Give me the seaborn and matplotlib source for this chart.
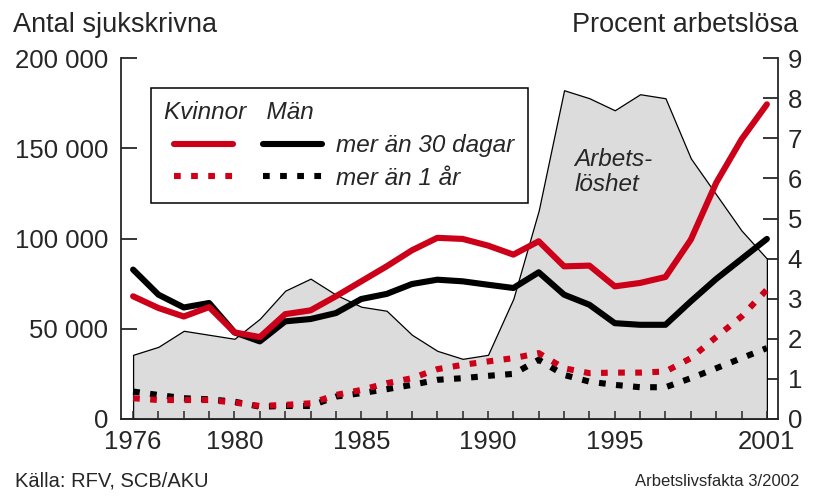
import numpy as np
import pandas as pd
import matplotlib
matplotlib.use("Agg")
import matplotlib.pyplot as plt
from matplotlib.lines import Line2D
from matplotlib.legend_handler import HandlerLine2D
import seaborn as sns

# ======================
# data

years = list(range(1976, 2002))

# share unemployed, percent (grey area, right axis)
unemployment = [1.6, 1.8, 2.2, 2.1, 2.0, 2.5, 3.2, 3.5, 3.1, 2.8, 2.7, 2.1, 1.7,
                1.5, 1.6, 3.0, 5.2, 8.2, 8.0, 7.7, 8.1, 8.0, 6.5, 5.6, 4.7, 4.0]

# number on sick leave, more than 30 days
women_30 = [68000, 61500, 56800, 62000, 48000, 45400, 58100, 60200, 68000, 76300,
            84600, 93500, 100400, 99800, 96100, 91100, 98500, 84600, 85000, 73500,
            75400, 78700, 99400, 130900, 155000, 174400]
men_30 = [82800, 68900, 61800, 64300, 48000, 43000, 54100, 55400, 58700, 66500,
          69300, 74800, 77200, 76300, 74400, 72600, 81300, 68900, 63300, 53100,
          52200, 52200, 65200, 77600, 88700, 99800]

# more than 1 year
women_1yr = [11500, 10500, 10500, 10500, 9100, 7200, 7800, 8700, 13300, 16100,
             19800, 22600, 27600, 30000, 31900, 33700, 36500, 28100, 25400, 25700,
             25700, 26300, 33700, 45400, 56800, 71700]
men_1yr = [15200, 13300, 11500, 10900, 9600, 6800, 7200, 7200, 12400, 14300,
           16500, 18900, 21700, 22600, 23900, 25000, 32800, 24400, 20700, 18900,
           17600, 17600, 22600, 28100, 33700, 39300]

year_labels = [1976, 1980, 1985, 1990, 1995, 2001]
left_ticks = [0, 50000, 100000, 150000, 200000]
left_labels = ["0", "50 000", "100 000", "150 000", "200 000"]
right_ticks = list(range(0, 10))

# ======================

sns.set_style("ticks")
plt.rcParams["font.family"] = ["Liberation Sans", "DejaVu Sans"]

RED = "#cc0018"
GREY = "#dcdcdc"
DOTS = (0, (1.1, 1.7))

fig = plt.figure(figsize=(8.17, 4.97), dpi=100)
ax = fig.add_axes([0.148, 0.157, 0.804, 0.726])
ax2 = ax.twinx()

# unemployment area on the right-hand axis, behind the lines
ax2.fill_between(years, unemployment, 0, facecolor=GREY, edgecolor="black",
                 linewidth=0.9)
ax2.set_ylim(0, 9)
ax2.set_yticks(right_ticks)
ax2.text(1993.4, 6.75, "Arbets-\nlöshet", ha="left", va="top", style="italic",
         fontsize=17.5, linespacing=1.1)

ax.set_zorder(ax2.get_zorder() + 1)
ax.patch.set_visible(False)

sns.lineplot(x=years, y=men_30, ax=ax, color="black", lw=4.4)
sns.lineplot(x=years, y=women_30, ax=ax, color=RED, lw=4.4)
sns.lineplot(x=years, y=men_1yr, ax=ax, color="black", lw=4.4,
             linestyle=DOTS, dash_capstyle="butt")
sns.lineplot(x=years, y=women_1yr, ax=ax, color=RED, lw=4.4,
             linestyle=DOTS, dash_capstyle="butt")

ax.set_xlim(1975.52, 2001.43)
ax.set_ylim(0, 200000)
ax.set_yticks(left_ticks)
ax.set_yticklabels(left_labels)
ax.set_xticks(year_labels)
ax.set_xticks(years, minor=True)

for a in (ax, ax2):
    a.spines["top"].set_visible(False)
    for s in a.spines.values():
        s.set_linewidth(1.3)
ax.spines["right"].set_visible(False)
ax2.spines["left"].set_visible(False)
ax2.spines["bottom"].set_visible(False)

ax.tick_params(axis="y", direction="in", length=11.5, width=1.3, pad=9,
               labelsize=18.5)
ax.tick_params(axis="x", which="both", direction="in", length=6, width=1.1,
               pad=8, labelsize=18.5)
ax2.tick_params(axis="y", direction="in", length=11, width=1.3, pad=7,
                labelsize=18.5)

# legend: two columns of keys under the headers Kvinnor / Män
handles = [
    Line2D([], [], color=RED, lw=4.4),
    Line2D([], [], color=RED, lw=4.4, linestyle=DOTS, dash_capstyle="butt"),
    Line2D([], [], color="black", lw=4.4),
    Line2D([], [], color="black", lw=4.4, linestyle=DOTS, dash_capstyle="butt"),
]
labels = ["", "", "mer än 30 dagar", "mer än 1 år"]
leg = ax.legend(handles, labels, ncol=2, loc="upper left",
                bbox_to_anchor=(0.0457, 0.917), borderaxespad=0,
                frameon=True, fancybox=False,
                framealpha=1, edgecolor="black", handlelength=3.25,
                handletextpad=0.16, columnspacing=0.25, labelspacing=0.4,
                borderpad=0.55, title="Kvinnor   Män", alignment="left",
                handler_map={Line2D: HandlerLine2D(marker_pad=0.41, numpoints=2)},
                prop={"style": "italic", "size": 17.5},
                title_fontproperties={"style": "italic", "size": 17.5})
leg.get_frame().set_linewidth(1.1)

fig.text(0.016, 0.9356, "Antal sjukskrivna", fontsize=19.5, va="baseline")
fig.text(0.977, 0.9356, "Procent arbetslösa", fontsize=19.5, va="baseline",
         ha="right")
fig.text(0.018, 0.022, "Källa: RFV, SCB/AKU", fontsize=14.5, va="baseline")
fig.text(0.979, 0.022, "Arbetslivsfakta 3/2002", fontsize=12, va="baseline",
         ha="right")

plt.savefig("out.png", dpi=100)
plt.close()
